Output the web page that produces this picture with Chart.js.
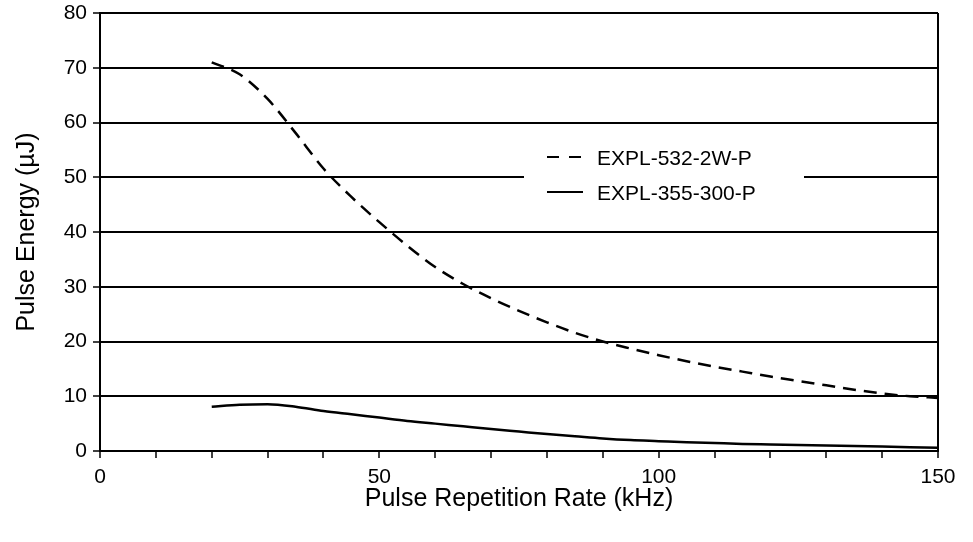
<!DOCTYPE html>
<html><head><meta charset="utf-8">
<script src="https://cdn.jsdelivr.net/npm/chart.js@4/dist/chart.umd.min.js"></script>
<style>html,body{margin:0;padding:0;background:#fff}#wrap{width:973px;height:542px}</style>
</head><body><div id="wrap"><canvas id="c" width="973" height="542"></canvas></div>
<script>
const rates = [20,25,30,35,40,45,50,55,60,65,70,75,80,85,90,95,100,105,110,115,120,125,130,135,140,145,150];
const energy532 = [71,68.8,64.3,58.1,51.6,46.4,41.8,37.5,33.6,30.5,27.9,25.6,23.5,21.6,20.0,18.7,17.5,16.4,15.4,14.5,13.6,12.8,12.0,11.2,10.5,10.0,9.7];
const energy355 = [8.1,8.45,8.55,8.1,7.3,6.7,6.1,5.5,5.0,4.5,4.0,3.55,3.1,2.7,2.3,2.0,1.8,1.6,1.45,1.3,1.2,1.1,1.0,0.9,0.8,0.7,0.6];
const seriesNames = ['EXPL-532-2W-P','EXPL-355-300-P'];
const xLabelTicks = [0,50,100,150];
const yTicks = [0,10,20,30,40,50,60,70,80];
const xTitle = 'Pulse Repetition Rate (kHz)';
const yTitle = 'Pulse Energy (µJ)';

const FONT = '"Liberation Sans", Arial, Helvetica, sans-serif';

const insideLegend = {
  id: 'insideLegend',
  afterDatasetsDraw(chart) {
    const ctx = chart.ctx;
    ctx.save();
    ctx.fillStyle = '#fff';
    ctx.fillRect(524, 138, 280, 72);
    chart.data.datasets.forEach((ds, i) => {
      const y = 157 + i * 35;
      ctx.strokeStyle = '#000';
      ctx.lineWidth = 2;
      ctx.setLineDash(ds.legendDash || []);
      ctx.beginPath(); ctx.moveTo(547, y); ctx.lineTo(583, y); ctx.stroke();
      ctx.setLineDash([]);
      ctx.fillStyle = '#000';
      ctx.font = '21px ' + FONT;
      ctx.textBaseline = 'middle';
      ctx.textAlign = 'left';
      ctx.fillText(ds.label, 597, y + 2);
    });
    ctx.restore();
  }
};

new Chart(document.getElementById('c'), {
  type: 'line',
  data: {
    datasets: [
      { label: seriesNames[0], data: rates.map((x, i) => ({x, y: energy532[i]})),
        borderColor: '#000', borderWidth: 2.5, borderDash: [13, 8], legendDash: [12, 10],
        pointRadius: 0, tension: 0.4, cubicInterpolationMode: 'monotone', fill: false },
      { label: seriesNames[1], data: rates.map((x, i) => ({x, y: energy355[i]})),
        borderColor: '#000', borderWidth: 2.5,
        pointRadius: 0, tension: 0.4, cubicInterpolationMode: 'monotone', fill: false }
    ]
  },
  options: {
    responsive: false,
    animation: false,
    devicePixelRatio: 1,
    layout: { padding: { left: 12, right: 35, top: 13, bottom: 28 } },
    plugins: { legend: { display: false }, tooltip: { enabled: false } },
    scales: {
      x: {
        type: 'linear', min: 0, max: 150,
        afterFit: s => { s.height = 63; s.paddingLeft = 0; s.paddingRight = 0; },
        afterBuildTicks: s => { s.ticks = []; for (let v = 0; v <= 150; v += 10) s.ticks.push({value: v}); },
        ticks: { autoSkip: false, maxRotation: 0, color: '#000', padding: 7,
          font: { size: 21, family: FONT },
          callback: v => xLabelTicks.includes(v) ? String(v) : '' },
        grid: { drawOnChartArea: true, tickLength: 7, lineWidth: 2, tickWidth: 1.5, tickColor: '#000',
          color: c => (c.tick && c.tick.value === 150) ? '#000' : 'rgba(0,0,0,0)' },
        border: { display: true, color: '#000', width: 2 },
        title: { display: true, text: xTitle, color: '#000', font: { size: 25, family: FONT }, padding: 0 }
      },
      y: {
        min: 0, max: 80,
        afterFit: s => { s.width = 88; s.paddingTop = 0; s.paddingBottom = 0; },
        afterBuildTicks: s => { s.ticks = yTicks.map(v => ({value: v})); },
        ticks: { color: '#000', padding: 6, font: { size: 21, family: FONT } },
        grid: { color: '#000', lineWidth: 2, tickLength: 7, tickWidth: 1.5 },
        border: { display: true, color: '#000', width: 2 },
        title: { display: true, text: yTitle, color: '#000', font: { size: 25, family: FONT }, padding: 0 }
      }
    }
  },
  plugins: [insideLegend]
});
</script>
</body></html>
